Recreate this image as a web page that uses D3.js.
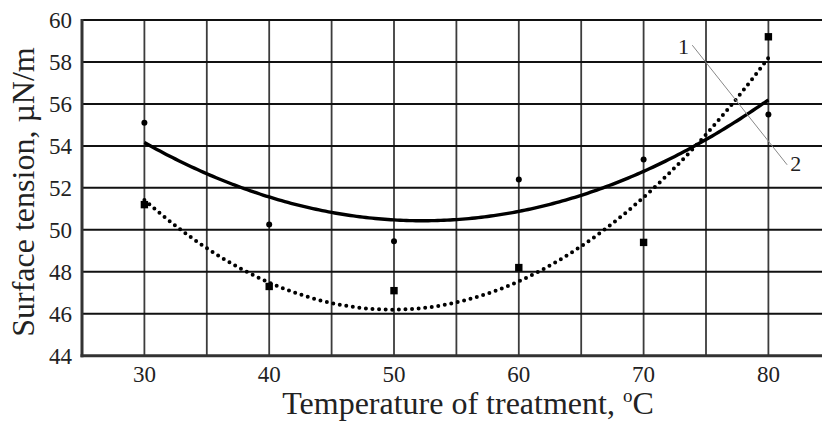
<!DOCTYPE html>
<html lang="en">
<head>
    <meta charset="UTF-8">
    <title>Surface tension vs temperature of treatment</title>
    <script src="https://d3js.org/d3.v7.min.js"></script>
    <style>
        body { margin: 0; background: #fff; }
        svg { display: block; }
        svg text { font-family: "Liberation Serif", "Times New Roman", serif; }
        .grid-h { stroke: #111; stroke-width: 2; }
        .grid-v { stroke: #3c3c3c; stroke-width: 1.8; }
        .axis-line { stroke: #333; stroke-width: 3; }
        .tick-label { font-size: 23px; fill: #222; }
        .title { font-size: 32px; fill: #222; }
    </style>
</head>
<body>
    <div id="chart"></div>

    <script>
        // measured points (temperature of treatment, °C)
        const temps = [30, 40, 50, 60, 70, 80];
        // curve 1 - squares, dotted trend
        const tension1 = [51.2, 47.3, 47.1, 48.2, 49.4, 59.2];
        // curve 2 - circles, solid trend
        const tension2 = [55.1, 50.25, 49.45, 52.4, 53.35, 55.5];

        const xTicks = [30, 40, 50, 60, 70, 80];
        const xGrid = [30, 35, 40, 45, 50, 55, 60, 65, 70, 75, 80, 85];
        const yTicks = [44, 46, 48, 50, 52, 54, 56, 58, 60];

        // leader line with curve numbers
        const leaderLine = [[73.9, 58.8], [81.5, 53.1]];
        const curveLabels = [
            { text: '1', x: 73.2, y: 58.4 },
            { text: '2', x: 82.2, y: 52.8 }
        ];

        const width = 822;
        const height = 422;

        const x = d3.scaleLinear().domain([25, 85]).range([82, 830.8]);
        const y = d3.scaleLinear().domain([44, 60]).range([355.7, 20]);

        const svg = d3.select('#chart').append('svg')
            .attr('width', width)
            .attr('height', height);

        // second order polynomial trend (least squares), like a spreadsheet trendline
        function quadFit(xs, ys) {
            const n = xs.length;
            const m = d3.mean(xs);
            const t = xs.map(v => (v - m) / 10);
            const s2 = d3.sum(t, v => v * v), s3 = d3.sum(t, v => v ** 3), s4 = d3.sum(t, v => v ** 4);
            const s1 = d3.sum(t);
            const sy = d3.sum(ys), sty = d3.sum(t, (v, i) => v * ys[i]), st2y = d3.sum(t, (v, i) => v * v * ys[i]);
            // solve normal equations 3x3 (Cramer)
            const A = [[n, s1, s2], [s1, s2, s3], [s2, s3, s4]];
            const B = [sy, sty, st2y];
            const det = M => M[0][0] * (M[1][1] * M[2][2] - M[1][2] * M[2][1])
                - M[0][1] * (M[1][0] * M[2][2] - M[1][2] * M[2][0])
                + M[0][2] * (M[1][0] * M[2][1] - M[1][1] * M[2][0]);
            const D = det(A);
            const coef = [0, 1, 2].map(k => det(A.map((row, i) => row.map((v, j) => j === k ? B[i] : v))) / D);
            return v => {
                const tv = (v - m) / 10;
                return coef[0] + coef[1] * tv + coef[2] * tv * tv;
            };
        }

        const fit1 = quadFit(temps, tension1);
        const fit2 = quadFit(temps, tension2);
        const xs = d3.range(30, 80.001, 0.25);

        // grid
        svg.append('g').selectAll('line')
            .data(xGrid)
            .join('line')
            .attr('class', 'grid-v')
            .attr('x1', d => x(d)).attr('x2', d => x(d))
            .attr('y1', y(60)).attr('y2', y(44));

        svg.append('g').selectAll('line')
            .data(yTicks.filter(d => d > 44))
            .join('line')
            .attr('class', 'grid-h')
            .attr('x1', x(25)).attr('x2', width)
            .attr('y1', d => y(d)).attr('y2', d => y(d));

        // axes
        svg.append('line').attr('class', 'axis-line')
            .attr('x1', x(25)).attr('x2', x(25))
            .attr('y1', y(60) - 1).attr('y2', y(44) + 1.5);
        svg.append('line').attr('class', 'axis-line')
            .attr('x1', x(25) - 1.5).attr('x2', width)
            .attr('y1', y(44)).attr('y2', y(44));

        // tick labels
        svg.append('g').selectAll('text')
            .data(yTicks)
            .join('text')
            .attr('class', 'tick-label')
            .attr('x', 72)
            .attr('y', d => y(d))
            .attr('dy', '0.35em')
            .attr('text-anchor', 'end')
            .text(d => d);

        svg.append('g').selectAll('text')
            .data(xTicks)
            .join('text')
            .attr('class', 'tick-label')
            .attr('x', d => x(d))
            .attr('y', 382)
            .attr('text-anchor', 'middle')
            .text(d => d);

        // axis titles
        const xt = svg.append('text')
            .attr('class', 'title')
            .attr('x', 468)
            .attr('y', 414)
            .attr('text-anchor', 'middle');
        xt.append('tspan').text('Temperature of treatment, ');
        xt.append('tspan').attr('font-size', '19px').attr('dy', '-12').text('o');
        xt.append('tspan').attr('dy', '12').text('C');

        svg.append('text')
            .attr('class', 'title')
            .attr('transform', 'translate(34,192) rotate(-90)')
            .attr('text-anchor', 'middle')
            .text('Surface tension, \u00b5N/m');

        // trend lines
        const line = d3.line().x(d => x(d[0])).y(d => y(d[1]));

        svg.append('path')
            .datum(xs.map(v => [v, fit2(v)]))
            .attr('d', line)
            .attr('fill', 'none')
            .attr('stroke', '#000')
            .attr('stroke-width', 3.4);

        svg.append('path')
            .datum(xs.map(v => [v, fit1(v)]))
            .attr('d', line)
            .attr('fill', 'none')
            .attr('stroke', '#000')
            .attr('stroke-width', 4)
            .attr('stroke-linecap', 'round')
            .attr('stroke-dasharray', '0 6.6');

        // markers
        svg.append('g').selectAll('rect')
            .data(temps.map((t, i) => [t, tension1[i]]))
            .join('rect')
            .attr('x', d => x(d[0]) - 3.7)
            .attr('y', d => y(d[1]) - 3.7)
            .attr('width', 7.4)
            .attr('height', 7.4)
            .attr('fill', '#000');

        svg.append('g').selectAll('circle')
            .data(temps.map((t, i) => [t, tension2[i]]))
            .join('circle')
            .attr('cx', d => x(d[0]))
            .attr('cy', d => y(d[1]))
            .attr('r', 3)
            .attr('fill', '#000');

        // leader line and curve numbers
        svg.append('line')
            .attr('x1', x(leaderLine[0][0])).attr('y1', y(leaderLine[0][1]))
            .attr('x2', x(leaderLine[1][0])).attr('y2', y(leaderLine[1][1]))
            .attr('stroke', '#888')
            .attr('stroke-width', 1);

        svg.append('g').selectAll('text')
            .data(curveLabels)
            .join('text')
            .attr('x', d => x(d.x))
            .attr('y', d => y(d.y))
            .attr('text-anchor', 'middle')
            .attr('font-size', '22px')
            .attr('fill', '#222')
            .text(d => d.text);
    </script>
</body>
</html>
